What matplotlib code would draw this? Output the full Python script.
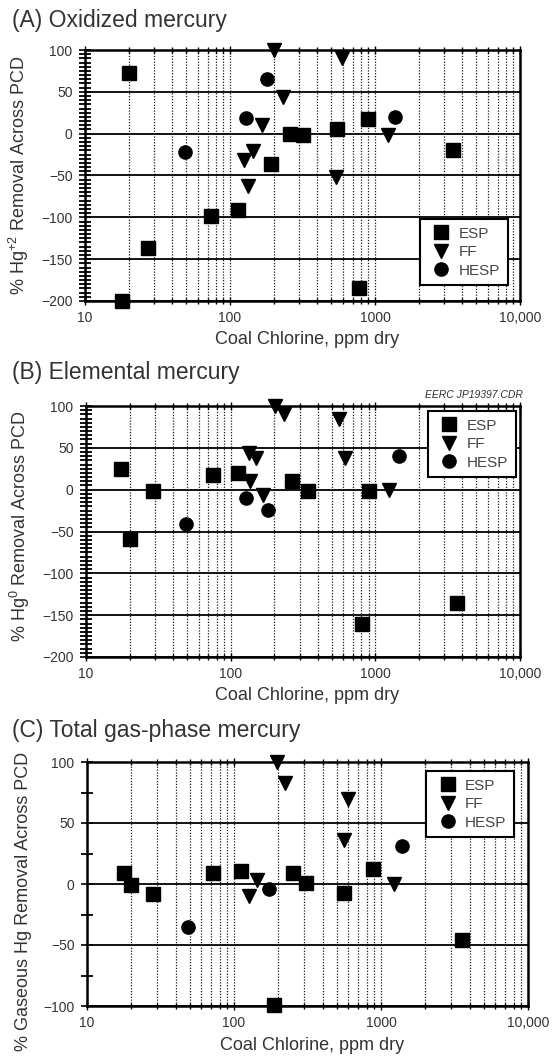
import matplotlib
matplotlib.use("Agg")
import matplotlib.pyplot as plt
from matplotlib.ticker import FixedLocator, MultipleLocator, LogLocator, NullFormatter

plt.rcParams['font.family'] = ['Liberation Sans', 'DejaVu Sans']
plt.rcParams['mathtext.default'] = 'regular'

# (A) mercurio oxidado
a_esp_x = [20, 27, 18, 74, 113, 192, 261, 317, 547, 889, 774, 3445]
a_esp_y = [72, -137, -200, -99, -91, -36, 0, -2, 6, 17, -184, -19]
a_ff_x = [201, 595, 233, 167, 144, 125, 134, 538, 1230]
a_ff_y = [100, 90, 44, 10, -21, -31, -62, -52, -1]
a_hesp_x = [49, 128, 180, 1374]
a_hesp_y = [-22, 19, 65, 20]

# (B) mercurio elementar
b_esp_x = [17.5, 20, 29, 75, 113, 265, 341, 899, 813, 3690]
b_esp_y = [25, -59, -1, 18, 20, 10, -2, -2, -161, -135]
b_ff_x = [204, 234, 565, 621, 134, 150, 135, 167, 1237]
b_ff_y = [100, 91, 85, 38, 44, 38, 10, -6, 0]
b_hesp_x = [49, 128, 181, 1448]
b_hesp_y = [-41, -10, -24, 40]

# (C) mercurio total em fase gasosa
c_esp_x = [17.8, 19.8, 28, 72, 111, 253, 310, 187, 556, 880, 3565]
c_esp_y = [9, -1, -8, 9, 11, 9, 1, -99, -7, 12, -46]
c_ff_x = [197, 224, 143, 127, 597, 556, 1233]
c_ff_y = [100, 83, 3, -10, 70, 36, 0]
c_hesp_x = [49, 173, 1383]
c_hesp_y = [-35, -4, 31]

x_ticks = [10, 100, 1000, 10000]
x_ticklabels = ['10', '100', '1000', '10,000']

W, H = 552, 1057
fig = plt.figure(figsize=(W / 100, H / 100), dpi=100)


def eixo(left, right, top, bottom):
    # posicao em pixels -> fracao da figura
    return fig.add_axes([left / W, 1 - bottom / H, (right - left) / W, (bottom - top) / H])


def painel(ax, esp, ff, hesp, ylim, ystep, yminor, ylabel, leg_anchor, ylabel_y=0.5):
    ax.set_xscale('log')
    ax.set_xlim(10, 10000)
    ax.set_ylim(*ylim)

    ax.xaxis.set_major_locator(FixedLocator(x_ticks))
    ax.set_xticklabels(x_ticklabels)
    ax.xaxis.set_minor_locator(LogLocator(base=10, subs=range(2, 10)))
    ax.xaxis.set_minor_formatter(NullFormatter())
    ax.yaxis.set_major_locator(MultipleLocator(ystep))
    ax.yaxis.set_minor_locator(MultipleLocator(yminor))

    ax.grid(which='both', axis='x', color='0.1', lw=0.9, ls=(0, (1, 1.3)))
    ax.grid(which='major', axis='y', color='k', lw=1.3, ls='-')
    ax.set_axisbelow(True)

    for s in ax.spines.values():
        s.set_linewidth(1.8)

    ax.tick_params(axis='x', which='major', direction='inout', length=6, width=1,
                   labelsize=10, labelcolor='#333333', pad=4, top=True)
    ax.tick_params(axis='x', which='minor', direction='inout', length=5, width=1, top=True)
    ax.tick_params(axis='y', which='major', direction='inout', length=8, width=1.2,
                   labelsize=10, labelcolor='#333333', pad=5)
    ax.tick_params(axis='y', which='minor', direction='inout', length=9, width=1.3)

    kw = dict(ls='none', color='k', clip_on=False, zorder=5)
    ax.plot(*esp, marker='s', ms=10.5, label='ESP', **kw)
    ax.plot(*ff, marker='v', ms=10.5, label='FF', **kw)
    ax.plot(*hesp, marker='o', ms=9.5, label='HESP', **kw)

    h_px = ax.get_position().height * H
    ax.set_xlabel('Coal Chlorine, ppm dry', fontsize=13, color='#333333', va='center')
    ax.xaxis.set_label_coords(0.51, -39 / h_px)
    ax.set_ylabel(ylabel, fontsize=13, color='#333333')
    ax.yaxis.set_label_coords(-0.125, ylabel_y)

    leg = ax.legend(loc='upper left', bbox_to_anchor=leg_anchor, frameon=True, fancybox=False,
                    edgecolor='k', framealpha=1, fontsize=11, labelcolor='#444444',
                    borderpad=0.5, handlelength=1.8, handletextpad=0.25, labelspacing=0.3,
                    borderaxespad=0)
    leg.get_frame().set_linewidth(1.5)
    leg.set_zorder(6)


ax_a = eixo(85, 520, 50, 301)
painel(ax_a, (a_esp_x, a_esp_y), (a_ff_x, a_ff_y), (a_hesp_x, a_hesp_y),
       (-200, 100), 50, 5, r'% Hg$^{+2}$ Removal Across PCD', (0.770, 0.327))

ax_b = eixo(86, 520, 406, 657)
painel(ax_b, (b_esp_x, b_esp_y), (b_ff_x, b_ff_y), (b_hesp_x, b_hesp_y),
       (-200, 100), 50, 5, r'% Hg$^{0}$ Removal Across PCD', (0.788, 0.980), 0.52)

ax_c = eixo(87, 528, 762, 1006)
painel(ax_c, (c_esp_x, c_esp_y), (c_ff_x, c_ff_y), (c_hesp_x, c_hesp_y),
       (-100, 100), 50, 25, '% Gaseous Hg Removal Across PCD', (0.769, 0.963), 0.43)

fig.text(12 / W, 1 - 20 / H, '(A) Oxidized mercury', fontsize=16.5, color='#333333', va='center')
fig.text(12 / W, 1 - 373 / H, '(B) Elemental mercury', fontsize=16.5, color='#333333', va='center')
fig.text(12 / W, 1 - 730 / H, '(C) Total gas-phase mercury', fontsize=16.5, color='#333333', va='center')
fig.text(523 / W, 1 - 395 / H, 'EERC JP19397.CDR', fontsize=7.5, style='italic',
         color='#333333', ha='right', va='center')

fig.savefig('out.png', dpi=100)
